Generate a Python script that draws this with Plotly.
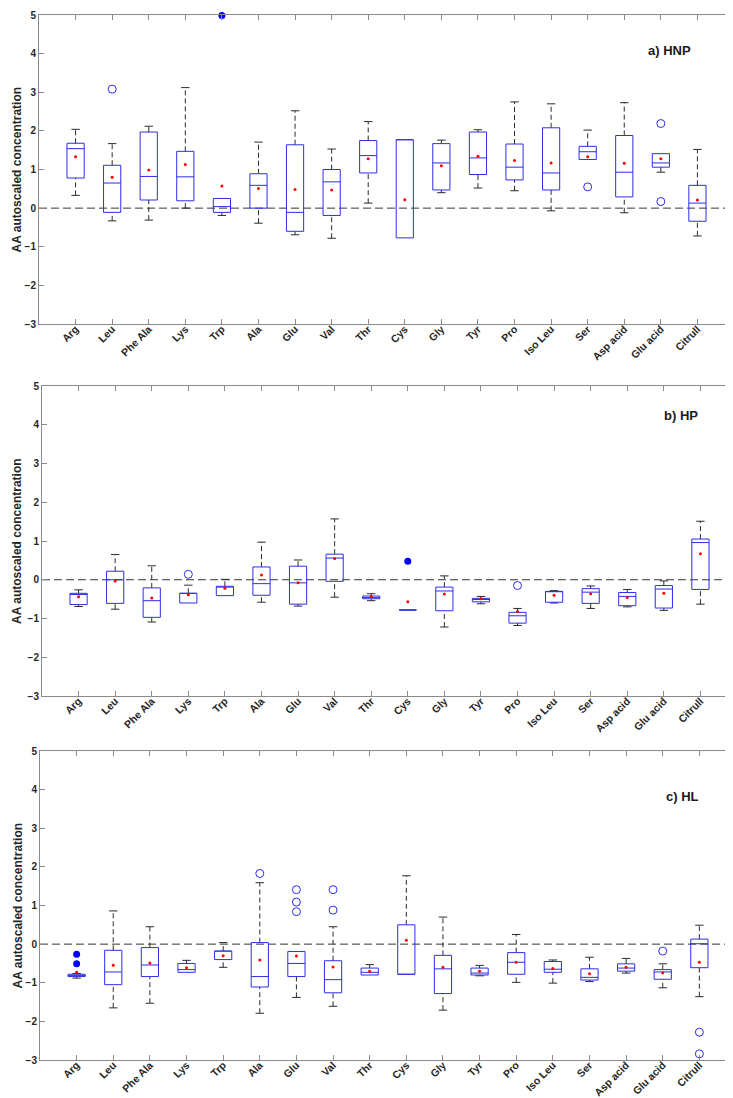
import plotly.graph_objects as go

categories = ["Arg", "Leu", "Phe Ala", "Lys", "Trp", "Ala", "Glu", "Val", "Thr", "Cys",
              "Gly", "Tyr", "Pro", "Iso Leu", "Ser", "Asp acid", "Glu acid", "Citrull"]
y_ticks = [-3, -2, -1, 0, 1, 2, 3, 4, 5]

# ---- a) HNP ----
hnp_lw = [0.33, -0.33, -0.31, 0.00, -0.19, -0.39, -0.69, -0.78, 0.13, -0.77, 0.40, 0.52, 0.45, -0.07, 1.26, -0.12, 0.93, -0.72]
hnp_q1 = [0.78, -0.11, 0.21, 0.19, -0.11, 0.00, -0.60, -0.19, 0.91, -0.77, 0.47, 0.87, 0.73, 0.47, 1.26, 0.29, 1.06, -0.34]
hnp_med = [1.54, 0.65, 0.82, 0.81, 0.04, 0.59, -0.11, 0.68, 1.36, 1.77, 1.17, 1.30, 1.06, 0.91, 1.46, 0.93, 1.17, 0.13]
hnp_q3 = [1.68, 1.11, 1.97, 1.47, 0.25, 0.89, 1.64, 1.00, 1.75, 1.77, 1.67, 1.97, 1.66, 2.08, 1.60, 1.88, 1.41, 0.59]
hnp_uw = [2.04, 1.67, 2.12, 3.12, 0.25, 1.71, 2.52, 1.53, 2.24, 1.77, 1.76, 2.03, 2.75, 2.70, 2.02, 2.73, 1.41, 1.52]
hnp_mean = [1.33, 0.80, 0.99, 1.13, 0.57, 0.51, 0.48, 0.47, 1.28, 0.22, 1.10, 1.34, 1.23, 1.17, 1.33, 1.16, 1.28, 0.21]
hnp_out_cat = ["Leu", "Ser", "Glu acid", "Glu acid"]
hnp_out_val = [3.08, 0.55, 2.19, 0.17]
hnp_far_cat = ["Trp"]
hnp_far_val = [4.99]

# ---- b) HP ----
hp_lw = [-0.69, -0.76, -1.09, -0.60, -0.41, -0.58, -0.68, -0.45, -0.54, -0.78, -1.22, -0.62, -1.18, -0.60, -0.74, -0.70, -0.79, -0.63]
hp_q1 = [-0.64, -0.61, -0.97, -0.60, -0.41, -0.40, -0.63, -0.04, -0.49, -0.78, -0.80, -0.57, -1.12, -0.58, -0.61, -0.67, -0.73, -0.25]
hp_med = [-0.38, 0.00, -0.54, -0.35, -0.19, -0.10, -0.08, 0.56, -0.46, -0.78, -0.29, -0.51, -0.93, -0.31, -0.32, -0.43, -0.24, 0.96]
hp_q3 = [-0.35, 0.22, -0.21, -0.35, -0.17, 0.33, 0.35, 0.66, -0.42, -0.78, -0.19, -0.48, -0.84, -0.30, -0.23, -0.33, -0.15, 1.05]
hp_uw = [-0.26, 0.65, 0.36, -0.14, 0.01, 0.97, 0.51, 1.57, -0.36, -0.78, 0.10, -0.43, -0.74, -0.28, -0.16, -0.25, -0.03, 1.51]
hp_mean = [-0.44, -0.03, -0.47, -0.39, -0.22, 0.12, -0.08, 0.55, -0.43, -0.57, -0.37, -0.49, -0.82, -0.40, -0.36, -0.46, -0.35, 0.67]
hp_out_cat = ["Lys", "Pro"]
hp_out_val = [0.14, -0.15]
hp_far_cat = ["Cys"]
hp_far_val = [0.48]

# ---- c) HL ----
hl_lw = [-0.88, -1.65, -1.53, -0.73, -0.60, -1.79, -1.38, -1.61, -0.80, -0.78, -1.71, -0.82, -0.99, -1.01, -0.97, -0.75, -1.13, -1.36]
hl_q1 = [-0.84, -1.05, -0.84, -0.73, -0.40, -1.11, -0.84, -1.26, -0.80, -0.78, -1.28, -0.80, -0.78, -0.73, -0.93, -0.70, -0.91, -0.61]
hl_med = [-0.81, -0.72, -0.54, -0.66, -0.18, -0.84, -0.50, -0.92, -0.73, -0.78, -0.64, -0.75, -0.47, -0.65, -0.86, -0.62, -0.72, 0.01]
hl_q3 = [-0.78, -0.16, -0.09, -0.50, -0.18, 0.04, -0.19, -0.43, -0.62, 0.50, -0.29, -0.62, -0.22, -0.45, -0.64, -0.51, -0.66, 0.13]
hl_uw = [-0.76, 0.86, 0.45, -0.42, 0.04, 1.59, -0.19, 0.45, -0.53, 1.77, 0.70, -0.55, 0.25, -0.41, -0.34, -0.37, -0.51, 0.49]
hl_mean = [-0.73, -0.55, -0.49, -0.61, -0.30, -0.41, -0.31, -0.59, -0.70, 0.10, -0.60, -0.70, -0.47, -0.63, -0.77, -0.60, -0.74, -0.47]
hl_out_cat = ["Ala", "Glu", "Glu", "Glu", "Val", "Val", "Glu acid", "Citrull", "Citrull"]
hl_out_val = [1.83, 1.41, 1.09, 0.84, 1.41, 0.88, -0.18, -2.28, -2.84]
hl_far_cat = ["Arg", "Arg"]
hl_far_val = [-0.26, -0.51]

panels = [
    dict(label="a) HNP", lw=hnp_lw, q1=hnp_q1, med=hnp_med, q3=hnp_q3, uw=hnp_uw, mean=hnp_mean,
         oc=hnp_out_cat, ov=hnp_out_val, fc=hnp_far_cat, fv=hnp_far_val,
         xdom=(31, 726), ydom=(7, 316), lab=(17.88, 4.07)),
    dict(label="b) HP", lw=hp_lw, q1=hp_q1, med=hp_med, q3=hp_q3, uw=hp_uw, mean=hp_mean,
         oc=hp_out_cat, ov=hp_out_val, fc=hp_far_cat, fv=hp_far_val,
         xdom=(34, 729), ydom=(378, 688), lab=(18.0, 4.25)),
    dict(label="c) HL", lw=hl_lw, q1=hl_q1, med=hl_med, q3=hl_q3, uw=hl_uw, mean=hl_mean,
         oc=hl_out_cat, ov=hl_out_val, fc=hl_far_cat, fv=hl_far_val,
         xdom=(32, 728), ydom=(743, 1052), lab=(18.05, 3.81)),
]

W, H = 733, 1098
BLUE = "rgb(45,45,235)"
DARK = "#2b2b2b"
FONT = "Liberation Sans, Arial, sans-serif"
hw = 0.235   # box half width
cw = 0.115   # cap half width

fig = go.Figure()
layout = dict(width=W, height=H, margin=dict(l=0, r=0, t=0, b=0),
              plot_bgcolor="white", paper_bgcolor="white", showlegend=False,
              font=dict(family=FONT, color="#262626"))
annotations = []
shapes = []

for k, p in enumerate(panels):
    sfx = "" if k == 0 else str(k + 1)
    xa, ya = "x" + sfx, "y" + sfx
    pos = list(range(1, len(categories) + 1))
    idx = {c: i + 1 for i, c in enumerate(categories)}

    bx, by, mx, my, wx, wy, cx, cy = [], [], [], [], [], [], [], []
    for i, c in enumerate(categories):
        xi = pos[i]
        q1, q3, md, lw, uw = p["q1"][i], p["q3"][i], p["med"][i], p["lw"][i], p["uw"][i]
        bx += [xi - hw, xi + hw, xi + hw, xi - hw, xi - hw, None]
        by += [q1, q1, q3, q3, q1, None]
        mx += [xi - hw, xi + hw, None]
        my += [md, md, None]
        if uw > q3 + 1e-9:
            wx += [xi, xi, None]; wy += [q3, uw, None]
            cx += [xi - cw, xi + cw, None]; cy += [uw, uw, None]
        if lw < q1 - 1e-9:
            wx += [xi, xi, None]; wy += [lw, q1, None]
            cx += [xi - cw, xi + cw, None]; cy += [lw, lw, None]

    fig.add_trace(go.Scatter(x=wx, y=wy, mode="lines", xaxis=xa, yaxis=ya,
                             line=dict(color=DARK, width=1, dash="5px,3px"), hoverinfo="skip"))
    fig.add_trace(go.Scatter(x=cx, y=cy, mode="lines", xaxis=xa, yaxis=ya,
                             line=dict(color=DARK, width=1), hoverinfo="skip"))
    fig.add_trace(go.Scatter(x=bx, y=by, mode="lines", xaxis=xa, yaxis=ya,
                             line=dict(color=BLUE, width=1), hoverinfo="skip"))
    fig.add_trace(go.Scatter(x=mx, y=my, mode="lines", xaxis=xa, yaxis=ya,
                             line=dict(color=BLUE, width=1), hoverinfo="skip"))
    fig.add_trace(go.Scatter(x=pos, y=p["mean"], mode="markers", xaxis=xa, yaxis=ya,
                             marker=dict(color="red", size=3), hoverinfo="skip"))
    fig.add_trace(go.Scatter(x=[idx[c] for c in p["oc"]], y=p["ov"], mode="markers", xaxis=xa, yaxis=ya,
                             marker=dict(symbol="circle-open", color=BLUE, size=8, line=dict(width=1)),
                             hoverinfo="skip"))
    fig.add_trace(go.Scatter(x=[idx[c] for c in p["fc"]], y=p["fv"], mode="markers", xaxis=xa, yaxis=ya,
                             marker=dict(symbol="circle", color="#0000ff", size=7), hoverinfo="skip",
                             cliponaxis=False))

    x0, x1 = p["xdom"]
    y0, y1 = p["ydom"]
    layout["xaxis" + sfx] = dict(domain=[x0 / W, x1 / W], anchor=ya, range=[0, len(categories) + 1],
                                 tickmode="array", tickvals=pos, ticktext=categories, tickangle=-45,
                                 ticks="inside", ticklen=5, tickcolor="#8a8a8a", showline=True,
                                 linecolor="#8a8a8a", linewidth=1, mirror="ticks", showgrid=False,
                                 zeroline=False, automargin=False, ticklabelstandoff=-6,
                                 tickfont=dict(size=10.5, family=FONT, color="#262626", weight="bold"))
    layout["yaxis" + sfx] = dict(domain=[1 - y1 / H, 1 - y0 / H], anchor=xa, range=[-3, 5],
                                 tickmode="array", tickvals=y_ticks,
                                 ticks="inside", ticklen=5, tickcolor="#8a8a8a", showline=True,
                                 linecolor="#8a8a8a", linewidth=1, mirror="ticks", showgrid=False,
                                 zeroline=False, automargin=False,
                                 tickfont=dict(size=10, family=FONT, color="#262626", weight="bold"))
    shapes.append(dict(type="line", xref=xa + " domain", yref=ya, x0=0, x1=1, y0=0, y1=0,
                       line=dict(color="#333333", width=1, dash="8px,4px"), layer="below"))
    annotations.append(dict(text="<b>" + p["label"] + "</b>", xref=xa, yref=ya, x=p["lab"][0], y=p["lab"][1],
                            xanchor="right", yanchor="middle", showarrow=False,
                            font=dict(size=13, family=FONT, color="#1a1a1a")))
    annotations.append(dict(text="<b>AA autoscaled concentration</b>", xref="paper", yref="paper",
                            x=9 / W, y=1 - (y0 + y1) / 2 / H, xanchor="center", yanchor="middle",
                            textangle=-90, showarrow=False,
                            font=dict(size=12, family=FONT, color="#262626")))

layout["annotations"] = annotations
layout["shapes"] = shapes
fig.update_layout(**layout)
fig.write_html("out.html")
